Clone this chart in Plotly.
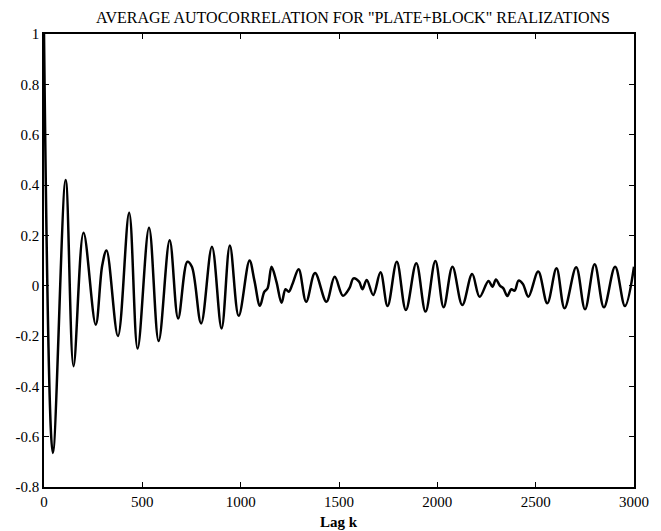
import plotly.graph_objects as go

# Lag values (k) and average autocorrelation
lags = [0, 45, 110, 150, 201, 263, 296, 318, 376, 433, 476, 534, 583, 639, 682,
        729, 752, 799, 854, 903, 945, 990, 1045, 1070, 1098, 1120, 1137, 1157,
        1182, 1208, 1228, 1245, 1265, 1295, 1333, 1378, 1436, 1478, 1520, 1553,
        1574, 1602, 1619, 1641, 1674, 1711, 1747, 1794, 1840, 1893, 1940, 1990,
        2032, 2077, 2127, 2177, 2215, 2260, 2280, 2298, 2318, 2335, 2356, 2376,
        2393, 2413, 2435, 2463, 2513, 2559, 2606, 2647, 2706, 2751, 2800, 2847,
        2904, 2954, 3000]
acf = [1.0, -0.665, 0.42, -0.32, 0.21, -0.155, 0.08, 0.14, -0.20, 0.29, -0.25,
       0.23, -0.22, 0.18, -0.13, 0.095, 0.075, -0.15, 0.155, -0.17, 0.16, -0.12,
       0.10, 0.02, -0.08, -0.025, -0.01, 0.075, 0.015, -0.068, -0.014, -0.024,
       0.01, 0.065, -0.064, 0.05, -0.064, 0.035, -0.04, -0.01, 0.029, 0.016,
       -0.014, 0.023, -0.037, 0.053, -0.081, 0.095, -0.097, 0.089, -0.103, 0.098,
       -0.086, 0.075, -0.077, 0.046, -0.044, 0.019, -0.004, 0.025, 0.0, -0.01,
       -0.041, -0.014, -0.02, 0.02, 0.007, -0.044, 0.056, -0.07, 0.069, -0.09,
       0.073, -0.094, 0.085, -0.086, 0.075, -0.081, 0.075]

x_ticks = [0, 500, 1000, 1500, 2000, 2500, 3000]
x_tick_labels = ["0", "500", "1000", "1500", "2000", "2500", "3000"]
y_ticks = [1, 0.8, 0.6, 0.4, 0.2, 0, -0.2, -0.4, -0.6, -0.8]
y_tick_labels = ["1", "0.8", "0.6", "0.4", "0.2", "0", "-0.2", "-0.4", "-0.6", "-0.8"]

title_text = 'AVERAGE AUTOCORRELATION FOR "PLATE+BLOCK" REALIZATIONS'
x_label = "Lag k"

font_family = "Liberation Serif, Times New Roman, serif"

fig = go.Figure()
fig.add_trace(go.Scatter(
    x=lags, y=acf, mode="lines",
    line=dict(color="black", width=2.5, shape="spline", smoothing=1.0),
    showlegend=False,
))

axis_common = dict(
    showgrid=False, zeroline=False, showline=True, linecolor="black",
    linewidth=1.5, mirror="ticks", ticks="inside", ticklen=5, tickwidth=1,
    tickcolor="black",
    tickfont=dict(family=font_family, size=15, color="black"),
)

fig.update_layout(
    width=661, height=531,
    margin=dict(l=44, r=16, t=34, b=44),
    paper_bgcolor="white", plot_bgcolor="white",
    title=dict(text=title_text, xref="container", x=353 / 661, xanchor="center",
               yref="container", y=1 - 17 / 531, yanchor="middle",
               font=dict(family=font_family, size=16, color="black")),
    xaxis=dict(range=[0, 3000], tickvals=x_ticks, ticktext=x_tick_labels,
               **axis_common),
    yaxis=dict(range=[-0.8, 1], tickvals=y_ticks, ticktext=y_tick_labels,
               **axis_common),
    annotations=[dict(text="<b>" + x_label + "</b>", xref="paper", yref="paper",
                      x=0.5, y=-(522 - 487) / 453, xanchor="center",
                      yanchor="middle", showarrow=False,
                      font=dict(family=font_family, size=15, color="black"))],
)

fig.write_html("out.html")
